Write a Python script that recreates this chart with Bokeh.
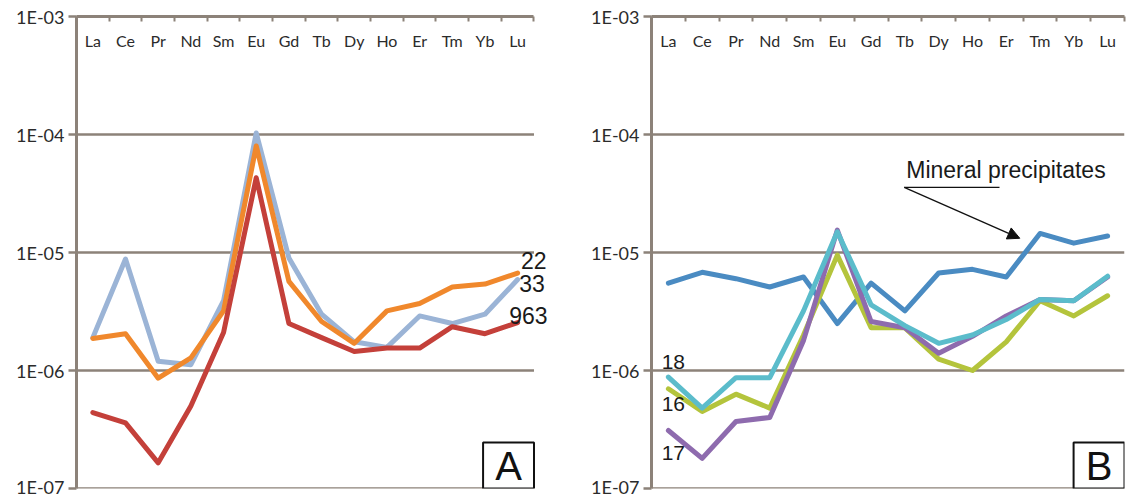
from bokeh.plotting import figure
from bokeh.layouts import row
from bokeh.models import (FixedTicker, CustomJSTickFormatter, Label, Arrow, NormalHead,
                          LinearAxis, Range1d)
from bokeh.embed import file_html
from bokeh.resources import INLINE
import numpy as np

elements = ["La", "Ce", "Pr", "Nd", "Sm", "Eu", "Gd", "Tb", "Dy", "Ho", "Er", "Tm", "Yb", "Lu"]
decades = [1e-7, 1e-6, 1e-5, 1e-4, 1e-3]

# Panel A
s22 = [1.87e-6, 2.05e-6, 8.6e-7, 1.28e-6, 3.2e-6, 8.0e-5, 5.7e-6, 2.6e-6, 1.7e-6, 3.2e-6, 3.7e-6, 5.1e-6, 5.4e-6, 6.7e-6]
s33 = [1.9e-6, 8.8e-6, 1.2e-6, 1.12e-6, 3.9e-6, 1.03e-4, 9.0e-6, 3.0e-6, 1.75e-6, 1.57e-6, 2.9e-6, 2.5e-6, 3.0e-6, 5.9e-6]
s963 = [4.4e-7, 3.6e-7, 1.65e-7, 5.0e-7, 2.1e-6, 4.3e-5, 2.5e-6, 1.9e-6, 1.45e-6, 1.55e-6, 1.55e-6, 2.35e-6, 2.05e-6, 2.55e-6]

# Panel B
smin = [5.5e-6, 6.8e-6, 6.0e-6, 5.1e-6, 6.2e-6, 2.5e-6, 5.5e-6, 3.2e-6, 6.7e-6, 7.2e-6, 6.2e-6, 1.45e-5, 1.2e-5, 1.38e-5]
s18 = [8.8e-7, 4.8e-7, 8.7e-7, 8.7e-7, 3.2e-6, 1.5e-5, 3.6e-6, 2.4e-6, 1.7e-6, 2.0e-6, 2.7e-6, 4.0e-6, 3.9e-6, 6.3e-6]
s16 = [7.0e-7, 4.5e-7, 6.3e-7, 4.8e-7, 2.0e-6, 9.5e-6, 2.3e-6, 2.3e-6, 1.25e-6, 1.0e-6, 1.75e-6, 3.9e-6, 2.9e-6, 4.3e-6]
s17 = [3.1e-7, 1.8e-7, 3.7e-7, 4.0e-7, 1.8e-6, 1.55e-5, 2.6e-6, 2.3e-6, 1.4e-6, 1.95e-6, 2.9e-6, 4.0e-6, 3.9e-6, 6.2e-6]

GRID = "#8c8279"
TXT = "#2b2b2b"
N = len(elements)
xs = list(np.arange(N) + 0.5)
bounds = list(range(N + 1))


def base(width, left, right, x_end):
    p = figure(width=width, height=497, y_axis_type="log", output_backend="svg",
               toolbar_location=None, x_range=Range1d(0, x_end),
               y_range=Range1d(decades[0], decades[-1]),
               min_border_left=left, min_border_right=right, min_border_top=16,
               min_border_bottom=9, x_axis_location=None)
    p.outline_line_color = None
    p.xgrid.visible = False
    p.ygrid.visible = False
    # horizontal grid lines spanning the categories only
    p.segment(x0=[0] * (len(decades) - 1), x1=[N] * (len(decades) - 1),
              y0=decades[:-1], y1=decades[:-1], line_color=GRID, line_width=2.5)
    ya = p.yaxis[0]
    ya.ticker = FixedTicker(ticks=decades, minor_ticks=[])
    ya.formatter = CustomJSTickFormatter(code="""
        const e = Math.round(Math.log10(tick));
        return "1E" + (e < 0 ? "-" : "+") + String(Math.abs(e)).padStart(2, "0");
    """)
    ya.axis_line_color = GRID
    ya.axis_line_width = 3
    ya.major_tick_line_color = GRID
    ya.major_tick_line_width = 2.5
    ya.major_tick_out = 8
    ya.major_tick_in = 0
    ya.minor_tick_line_color = None
    ya.major_label_text_font = "Lato"
    ya.major_label_text_font_size = "18px"
    ya.major_label_text_color = TXT
    ya.major_label_standoff = 4
    # category axis at top: labels at centres (drawn inside), small ticks at boundaries
    xa = LinearAxis(ticker=FixedTicker(ticks=xs, minor_ticks=bounds), bounds=(0, N))
    xa.formatter = CustomJSTickFormatter(args=dict(names=elements),
                                         code="return names[Math.floor(tick)];")
    xa.axis_line_color = GRID
    xa.axis_line_width = 3
    xa.major_tick_line_color = None
    xa.major_tick_out = 0
    xa.major_tick_in = 0
    xa.minor_tick_line_color = GRID
    xa.minor_tick_line_width = 2
    xa.minor_tick_in = 5
    xa.minor_tick_out = 0
    xa.major_label_text_font = "Lato"
    xa.major_label_text_font_size = "16px"
    xa.major_label_text_color = TXT
    xa.major_label_standoff = -33
    p.add_layout(xa, "above")
    return p


def series(p, ys, color, w=5):
    p.line(xs, ys, line_color=color, line_width=w, line_join="round", line_cap="round")


def tag(p, x, y, t, size="23px", align="left"):
    p.add_layout(Label(x=x, y=y, text=t, text_font="Liberation Sans", text_font_size=size,
                       text_align=align, text_baseline="middle", text_color="#1a1a1a"))


def box(p, t):
    p.add_layout(Label(x=N, y=decades[0], text="\u00a0" + t + "\u00a0",
                       text_font="Liberation Sans",
                       text_font_size="40px", text_align="right", text_baseline="bottom",
                       text_color="#111111", border_line_color="#111111", border_line_width=2,
                       background_fill_color="white", padding=1))


pA = base(559, 76, 1, 14.75)
series(pA, s33, "#9bb4d6")
series(pA, s22, "#f0882c")
series(pA, s963, "#c4403a")
tag(pA, 13.6, 8.56e-6, "22")
tag(pA, 13.55, 5.46e-6, "33")
tag(pA, 13.24, 2.92e-6, "963")
box(pA, "A")

pB = base(568, 92, 3, N)
series(pB, smin, "#4a8bc2")
series(pB, s16, "#b4c43c")
series(pB, s17, "#8e6bae")
series(pB, s18, "#5bbccb")
tag(pB, 0.3, 1.17e-6, "18", size="21px")
tag(pB, 0.3, 5.25e-7, "16", size="21px")
tag(pB, 0.3, 1.98e-7, "17", size="21px")
tag(pB, 7.54, 4.96e-5, "Mineral precipitates", size="23px")
pB.segment(x0=[7.48], y0=[3.56e-5], x1=[10.3], y1=[3.56e-5], line_color="#111111", line_width=1.3)
pB.add_layout(Arrow(end=NormalHead(size=12, fill_color="#111111", line_color="#111111"),
                    x_start=7.48, y_start=3.56e-5, x_end=10.9, y_end=1.32e-5,
                    line_color="#111111", line_width=1.3))
box(pB, "B")

layout = row(pA, pB, spacing=0)
open("out.html", "w").write(file_html(layout, INLINE))
